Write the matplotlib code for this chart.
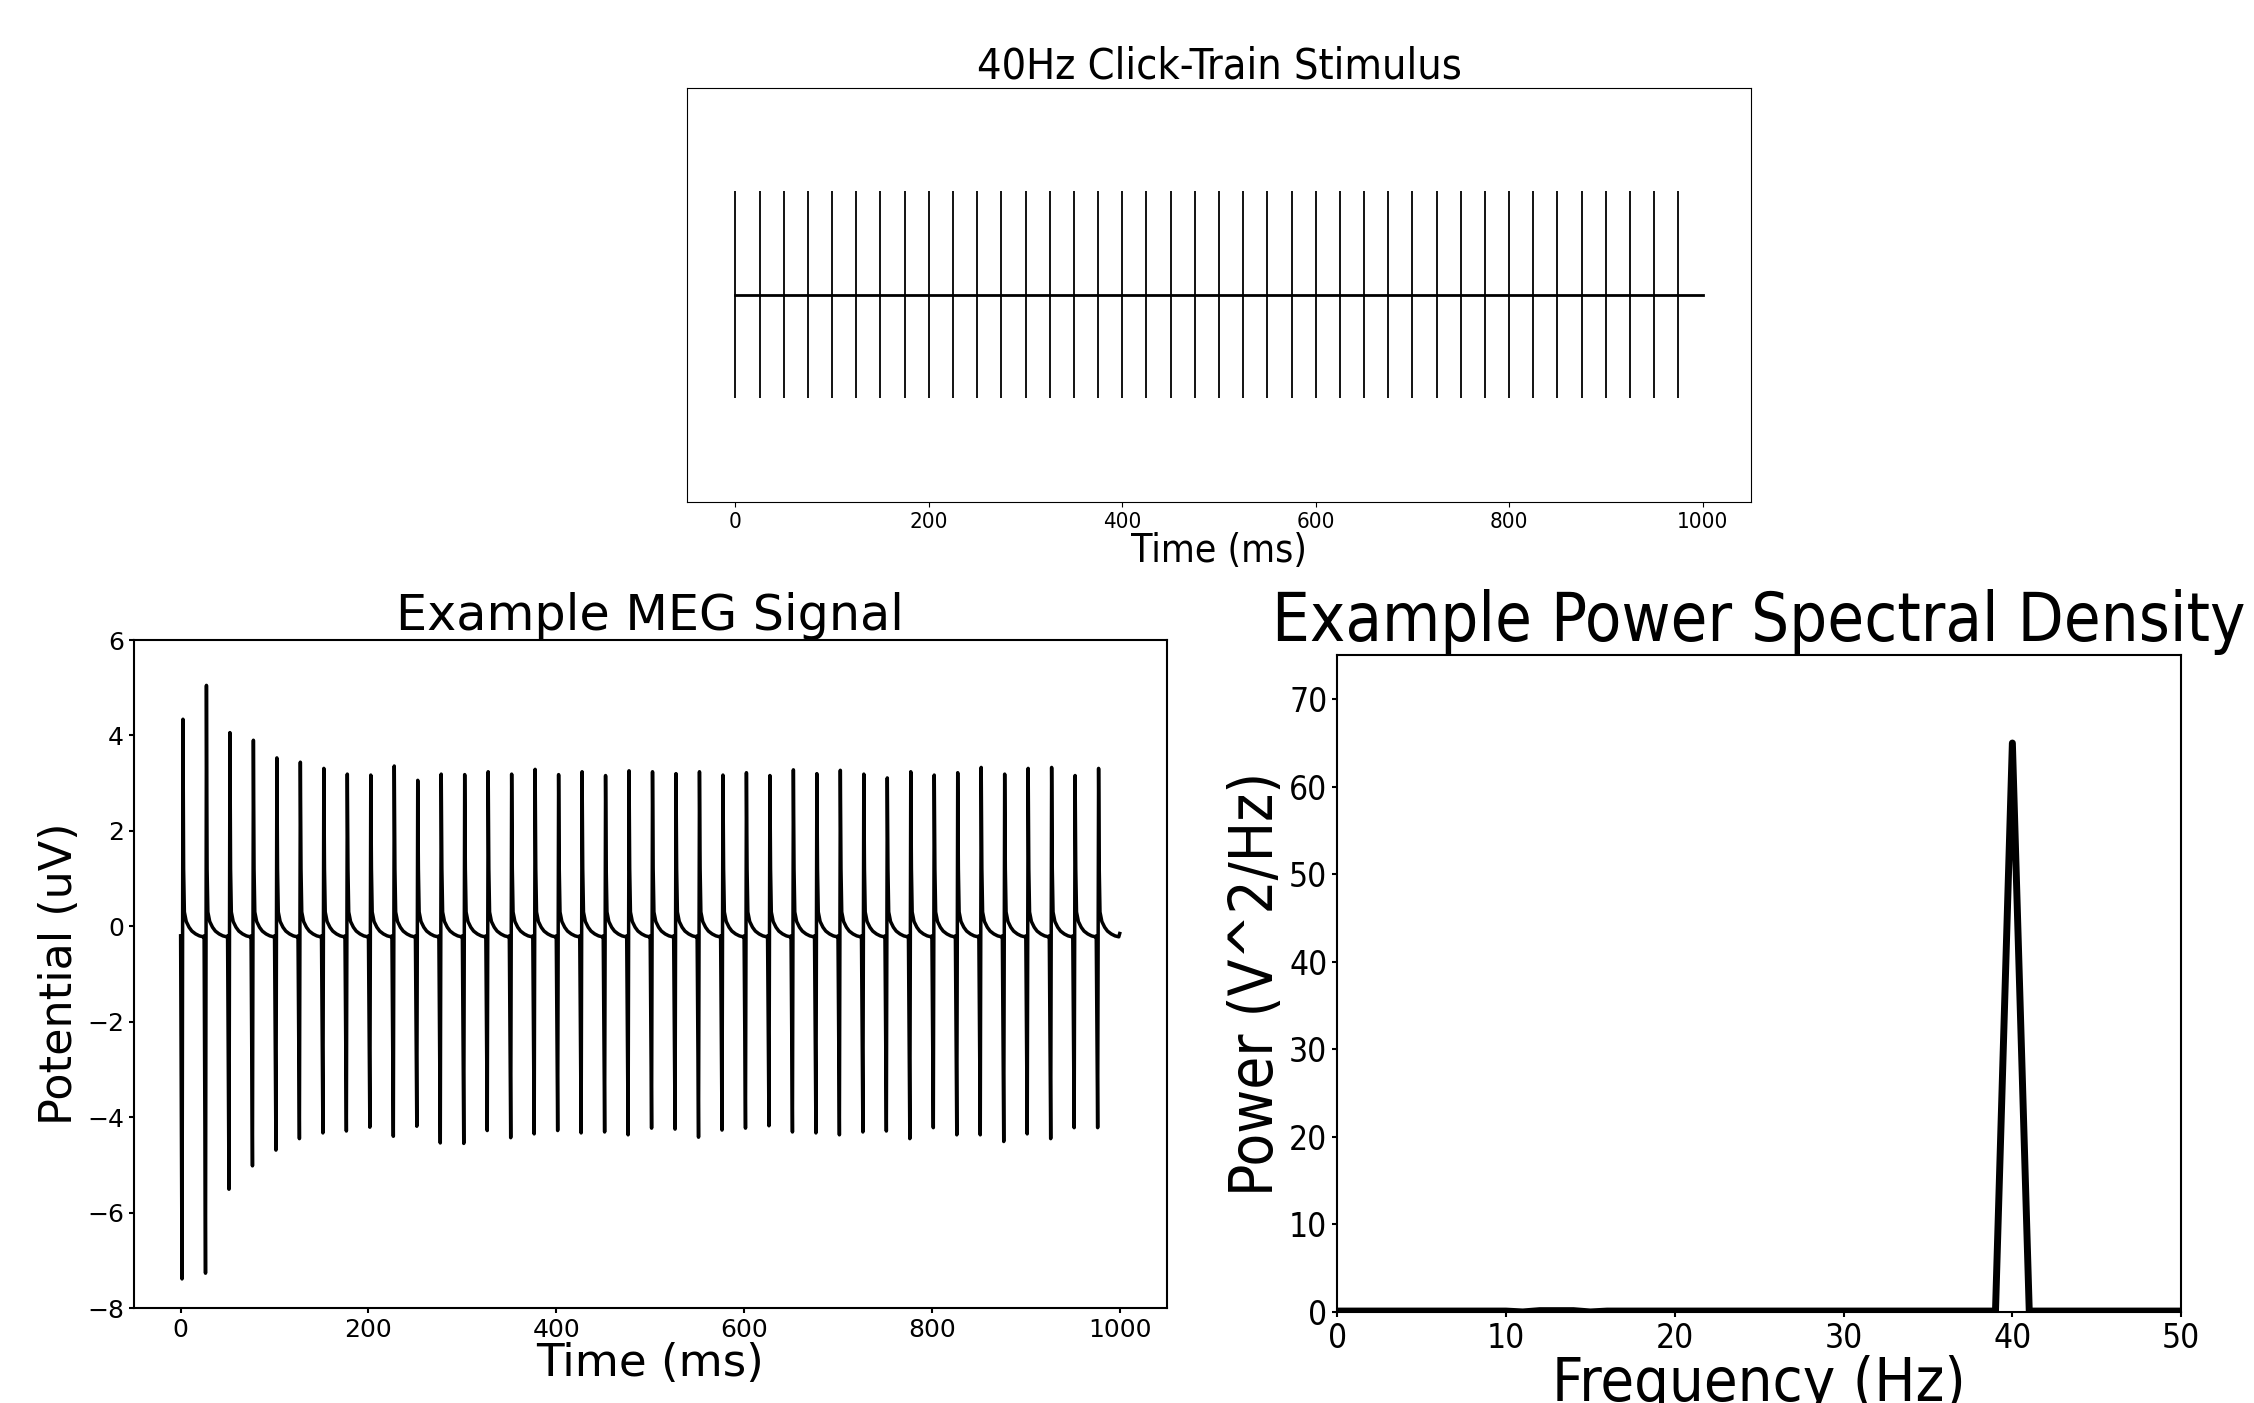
import matplotlib
matplotlib.use('Agg')
import matplotlib.pyplot as plt

# stimulus: one click every 25 ms over one second
click_times = [0, 25, 50, 75, 100, 125, 150, 175, 200, 225,
               250, 275, 300, 325, 350, 375, 400, 425, 450, 475,
               500, 525, 550, 575, 600, 625, 650, 675, 700, 725,
               750, 775, 800, 825, 850, 875, 900, 925, 950, 975]
click_amp = 1.0
stim_span = [0, 1000]

# MEG response: peak / trough of each click response (uV)
meg_peaks = [4.34, 5.05, 4.06, 3.90, 3.53, 3.44, 3.31, 3.19, 3.17, 3.36,
             3.06, 3.19, 3.18, 3.24, 3.19, 3.29, 3.18, 3.24, 3.16, 3.26,
             3.24, 3.20, 3.24, 3.17, 3.22, 3.16, 3.28, 3.20, 3.27, 3.19,
             3.11, 3.24, 3.17, 3.22, 3.33, 3.19, 3.31, 3.33, 3.16, 3.31]
meg_troughs = [-7.39, -7.27, -5.51, -5.02, -4.69, -4.45, -4.33, -4.29, -4.21, -4.40,
               -4.19, -4.54, -4.55, -4.28, -4.43, -4.35, -4.28, -4.33, -4.31, -4.37,
               -4.23, -4.25, -4.42, -4.27, -4.23, -4.18, -4.31, -4.33, -4.37, -4.31,
               -4.29, -4.45, -4.22, -4.37, -4.37, -4.51, -4.35, -4.45, -4.22, -4.22]
meg_rest = -0.2
spike_ms = [1.5, 2.5, 3.2]
decay_ms = [4, 6, 9, 12, 16, 20, 24]
decay_uv = [0.3, 0.1, -0.02, -0.1, -0.16, -0.2, -0.22]
meg_end_t, meg_end_v = 1000, -0.15

# power spectrum, 1 Hz bins
psd_freqs = [0, 1, 2, 3, 4, 5, 6, 7, 8, 9, 10, 11, 12, 13, 14, 15, 16, 17, 18, 19,
             20, 21, 22, 23, 24, 25, 26, 27, 28, 29, 30, 31, 32, 33, 34, 35, 36, 37, 38, 39,
             40, 41, 42, 43, 44, 45, 46, 47, 48, 49, 50]
psd_power = [0.1, 0.1, 0.1, 0.1, 0.1, 0.1, 0.1, 0.1, 0.1, 0.1, 0.1, 0.0, 0.15, 0.15, 0.15, 0.0, 0.1, 0.1, 0.1, 0.1,
             0.1, 0.1, 0.1, 0.1, 0.1, 0.1, 0.1, 0.1, 0.1, 0.1, 0.1, 0.1, 0.1, 0.1, 0.1, 0.1, 0.1, 0.1, 0.1, 0.1,
             65.0, 0.1, 0.1, 0.1, 0.1, 0.1, 0.1, 0.1, 0.1, 0.1, 0.1]

# build the MEG trace from the per-click values
meg_t, meg_v = [], []
for tk, pk, tr in zip(click_times, meg_peaks, meg_troughs):
    meg_t += [tk] + [tk + d for d in spike_ms] + [tk + d for d in decay_ms]
    meg_v += [meg_rest, tr, pk, 1.2] + decay_uv
meg_t.append(meg_end_t)
meg_v.append(meg_end_v)

fig = plt.figure(figsize=(22.54, 14.03), dpi=100)

# top: click train
ax1 = fig.add_axes([0.3048, 0.6422, 0.4720, 0.2951])
ax1.vlines(click_times, -click_amp, click_amp, color='black', lw=1.3)
ax1.plot(stim_span, [0, 0], color='black', lw=2)
ax1.set_xlim(-50, 1050)
ax1.set_ylim(-2, 2)
ax1.set_yticks([])
ax1.set_xticks([0, 200, 400, 600, 800, 1000])
ax1.tick_params(axis='x', labelsize=16)
for lab in ax1.get_xticklabels():
    lab.set_stretch('condensed')
ax1.set_title('40Hz Click-Train Stimulus', fontsize=31, stretch='condensed', pad=5)
ax1.set_xlabel('Time (ms)', fontsize=28, stretch='condensed', labelpad=0)

# bottom left: MEG signal
ax2 = fig.add_axes([0.0593, 0.0677, 0.4583, 0.4761])
ax2.plot(meg_t, meg_v, color='black', lw=2.5)
ax2.set_xlim(-50, 1050)
ax2.set_ylim(-8, 6)
ax2.set_xticks([0, 200, 400, 600, 800, 1000])
ax2.set_yticks([-8, -6, -4, -2, 0, 2, 4, 6])
ax2.tick_params(labelsize=18, width=1.5)
for s in ax2.spines.values():
    s.set_linewidth(1.5)
ax2.set_title('Example MEG Signal', fontsize=35.5, pad=4)
ax2.set_xlabel('Time (ms)', fontsize=32.5, labelpad=0)
ax2.set_ylabel('Potential (uV)', fontsize=32, labelpad=4)

# bottom right: PSD
ax3 = fig.add_axes([0.5932, 0.0649, 0.3745, 0.4679])
ax3.plot(psd_freqs, psd_power, color='black', lw=5)
ax3.set_xlim(0, 50)
ax3.set_ylim(0, 75)
ax3.set_xticks([0, 10, 20, 30, 40, 50])
ax3.set_yticks([0, 10, 20, 30, 40, 50, 60, 70])
ax3.tick_params(labelsize=24, width=1.5)
for s in ax3.spines.values():
    s.set_linewidth(1.5)
for lab in ax3.get_xticklabels() + ax3.get_yticklabels():
    lab.set_stretch('condensed')
ax3.set_title('Example Power Spectral Density', fontsize=48, stretch='condensed', pad=4)
ax3.set_xlabel('Frequency (Hz)', fontsize=44, stretch='condensed', labelpad=0)
ax3.set_ylabel('Power (V^2/Hz)', fontsize=43, stretch='condensed', labelpad=2)

fig.savefig('out.png', dpi=100)
